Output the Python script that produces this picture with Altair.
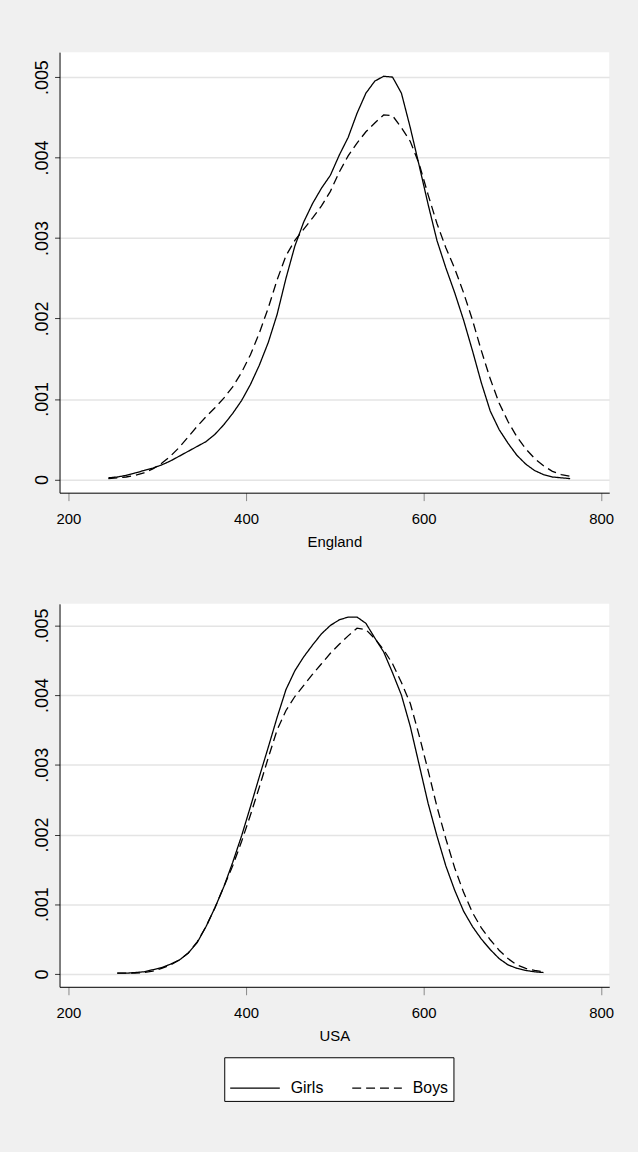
import altair as alt
import pandas as pd

# ---------------- data ----------------
eng_score = [245, 255, 265, 275, 285, 295, 305, 315, 325, 335, 345, 355, 365, 375, 385,
             395, 405, 415, 425, 435, 445, 455, 465, 475, 485, 495, 505, 515, 525, 535,
             545, 555, 565, 575, 585, 595, 605, 615, 625, 635, 645, 655, 665, 675, 685,
             695, 705, 715, 725, 735, 745, 755, 765]
eng_girls = [0.00002, 0.00003, 0.00005, 0.00008, 0.00011, 0.00014, 0.00018, 0.00023, 0.00029,
             0.00035, 0.00041, 0.00047, 0.00056, 0.00068, 0.00082, 0.00098, 0.00118, 0.00142,
             0.00170, 0.00205, 0.00250, 0.00290, 0.00320, 0.00343, 0.00362, 0.00378, 0.00403,
             0.00425, 0.00455, 0.00480, 0.00495, 0.00501, 0.00500, 0.00480, 0.00437, 0.00390,
             0.00342, 0.00297, 0.00263, 0.00232, 0.00198, 0.00160, 0.00120, 0.00085, 0.00062,
             0.00045, 0.00030, 0.00019, 0.00011, 0.00006, 0.00003, 0.00002, 0.00001]
eng_boys = [0.00001, 0.00002, 0.00003, 0.00005, 0.00008, 0.00013, 0.00020, 0.00029, 0.00040,
            0.00053, 0.00066, 0.00078, 0.00089, 0.00101, 0.00115, 0.00133, 0.00155, 0.00182,
            0.00213, 0.00248, 0.00278, 0.00297, 0.00311, 0.00325, 0.00340, 0.00358, 0.00382,
            0.00402, 0.00418, 0.00432, 0.00443, 0.00453, 0.00452, 0.00437, 0.00420, 0.00392,
            0.00354, 0.00318, 0.00288, 0.00262, 0.00232, 0.00198, 0.00160, 0.00125, 0.00095,
            0.00072, 0.00053, 0.00038, 0.00026, 0.00017, 0.00010, 0.00006, 0.00004]

usa_score = [255, 265, 275, 285, 295, 305, 315, 325, 335, 345, 355, 365, 375, 385, 395,
             405, 415, 425, 435, 445, 455, 465, 475, 485, 495, 505, 515, 525, 535, 545,
             555, 565, 575, 585, 595, 605, 615, 625, 635, 645, 655, 665, 675, 685, 695,
             705, 715, 725, 735]
usa_girls = [0.00001, 0.00001, 0.00002, 0.00003, 0.00006, 0.00009, 0.00014, 0.00020, 0.00030,
             0.00045, 0.00068, 0.00095, 0.00125, 0.00160, 0.00198, 0.00240, 0.00283, 0.00325,
             0.00368, 0.00408, 0.00435, 0.00455, 0.00472, 0.00488, 0.00500, 0.00508, 0.00512,
             0.00512, 0.00503, 0.00482, 0.00462, 0.00432, 0.00400, 0.00355, 0.00300, 0.00245,
             0.00198, 0.00155, 0.00120, 0.00090, 0.00068, 0.00050, 0.00035, 0.00022, 0.00013,
             0.00008, 0.00005, 0.00003, 0.00002]
usa_boys = [0.00001, 0.00001, 0.00001, 0.00002, 0.00004, 0.00008, 0.00013, 0.00020, 0.00030,
            0.00046, 0.00068, 0.00095, 0.00125, 0.00155, 0.00190, 0.00228, 0.00268, 0.00310,
            0.00350, 0.00378, 0.00398, 0.00414, 0.00430, 0.00445, 0.00460, 0.00473, 0.00485,
            0.00496, 0.00494, 0.00481, 0.00465, 0.00445, 0.00418, 0.00388, 0.00342, 0.00292,
            0.00240, 0.00194, 0.00152, 0.00117, 0.00088, 0.00066, 0.00049, 0.00034, 0.00022,
            0.00013, 0.00008, 0.00005, 0.00003]

groups = ["Girls", "Boys"]
x_ticks = [200, 400, 600, 800]
y_ticks = [0, 0.001, 0.002, 0.003, 0.004, 0.005]


def frame(score, girls, boys):
    rows = []
    for s, g in zip(score, girls):
        rows.append({"score": s, "density": g, "sex": "Girls"})
    for s, b in zip(score, boys):
        rows.append({"score": s, "density": b, "sex": "Boys"})
    return pd.DataFrame(rows)


eng_df = frame(eng_score, eng_girls, eng_boys)
usa_df = frame(usa_score, usa_girls, usa_boys)

FONT = "Liberation Sans, Arial"
dash_scale = alt.Scale(domain=groups, range=[[1, 0], [9, 5]])


def panel(df, title, h, ydom, legend):
    if legend:
        sd = alt.StrokeDash("sex:N", scale=dash_scale, legend=alt.Legend(
            title=None, orient="none", legendX=166, legendY=1013,
            direction="horizontal", symbolType="stroke", symbolSize=2500,
            symbolStrokeWidth=1.3, symbolStrokeColor="black",
            labelFont=FONT, labelFontSize=16, labelColor="black", labelOffset=10,
            columnPadding=26, padding=5, strokeColor="black", fillColor="white",
            cornerRadius=0,
        ))
    else:
        sd = alt.StrokeDash("sex:N", scale=dash_scale)
    return alt.Chart(df).mark_line(color="black", strokeWidth=1.3).encode(
        x=alt.X("score:Q", title=title,
                scale=alt.Scale(domain=[190, 809], nice=False, zero=False),
                axis=alt.Axis(values=x_ticks, grid=False, tickSize=8, tickColor="#888888",
                              labelFont=FONT, labelFontSize=15, labelPadding=11,
                              titleFont=FONT, titleFontSize=15, titleFontWeight="normal",
                              titlePadding=8, domainColor="black", labelColor="black",
                              titleColor="black")),
        y=alt.Y("density:Q", title=None,
                scale=alt.Scale(domain=ydom, nice=False, zero=False),
                axis=alt.Axis(values=y_ticks, grid=True, gridColor="#e4e4e4", gridWidth=1.5,
                              tickSize=5, tickColor="#333333", labelAngle=270,
                              labelAlign="center", labelBaseline="alphabetic",
                              labelPadding=7, labelFont=FONT, labelFontSize=18,
                              labelColor="black", domainColor="black",
                              minExtent=27, maxExtent=27,
                              labelExpr="datum.value == 0 ? '0' : substring(format(datum.value, '.3f'), 1)")),
        strokeDash=sd,
        order="score:Q",
    ).properties(width=554, height=h)


top = panel(eng_df, "England", 444, [-0.000165, 0.00531], True)
bottom = panel(usa_df, "USA", 386, [-0.000185, 0.00531], False)

chart = alt.vconcat(top, bottom, spacing=55).resolve_scale(strokeDash="shared").properties(
    padding={"left": 33, "top": 48, "right": 24, "bottom": 55},
    background="#f0f0f0",
).configure_view(fill="white", stroke=None).configure_axis(domainWidth=1)

chart.save("out.html", embed_options={"renderer": "svg", "actions": False})
